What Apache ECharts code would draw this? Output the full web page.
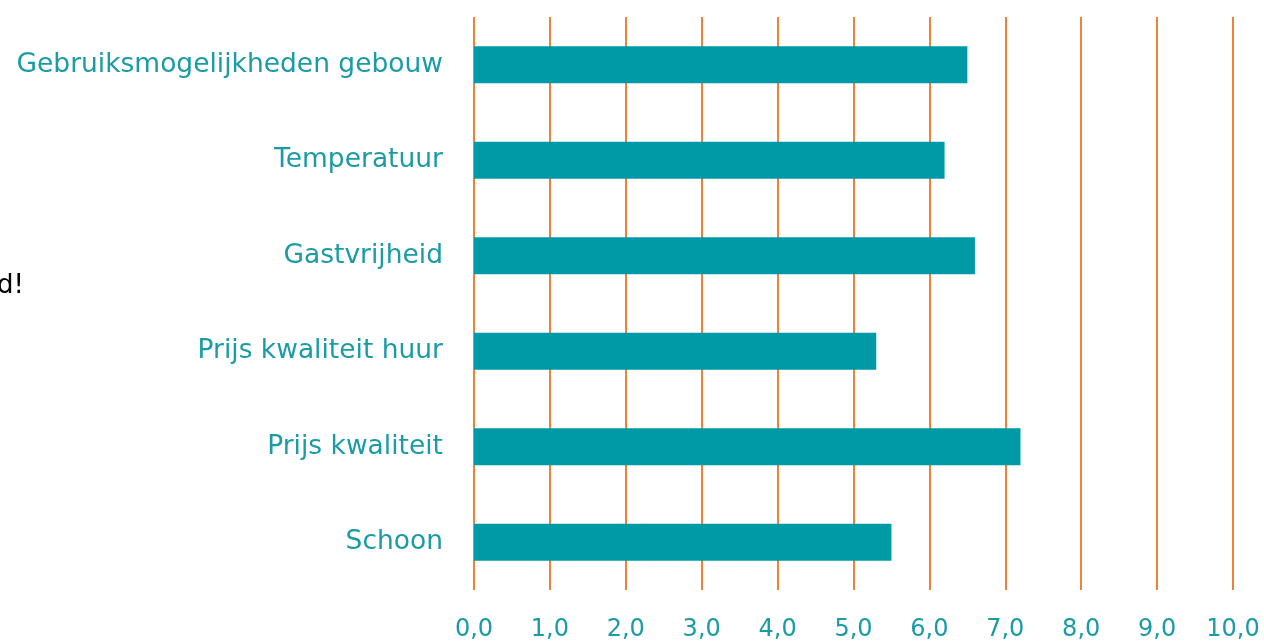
<!DOCTYPE html>
<html><head><meta charset="utf-8">
<script src="https://cdn.jsdelivr.net/npm/echarts@6/dist/echarts.min.js"></script>
<style>html,body{margin:0;padding:0;background:#fff}#c{width:1264px;height:642px}</style>
</head><body><div id="c"></div>
<script>
var categories = ["Gebruiksmogelijkheden gebouw", "Temperatuur", "Gastvrijheid", "Prijs kwaliteit huur", "Prijs kwaliteit", "Schoon"];
var values = [6.5, 6.2, 6.6, 5.3, 7.2, 5.5];
var xTicks = [0, 1, 2, 3, 4, 5, 6, 7, 8, 9, 10];
var chart = echarts.init(document.getElementById('c'));
chart.setOption({
  animation: false,
  grid: {left: 474, right: 31, top: 17, bottom: 52, containLabel: false},
  xAxis: {
    type: 'value', min: xTicks[0], max: xTicks[xTicks.length - 1], interval: 1,
    axisLine: {show: false}, axisTick: {show: false},
    splitLine: {show: true, lineStyle: {color: '#EE8236', width: 2}},
    axisLabel: {color: '#1A9BA5', fontSize: 24, fontFamily: 'DejaVu Sans', margin: 28,
      formatter: function (v) { return v.toFixed(1).replace('.', ','); }}
  },
  yAxis: {
    type: 'category', data: categories, inverse: true,
    axisLine: {show: false}, axisTick: {show: false}, splitLine: {show: false},
    axisLabel: {color: '#1A9BA5', fontSize: 26.5, fontFamily: 'DejaVu Sans', margin: 31}
  },
  series: [{
    type: 'bar', data: values, barWidth: 37,
    itemStyle: {color: '#009AA6'}
  }],
  graphic: [{type: 'text', left: -3, top: 273, style: {text: 'd!', fontSize: 26, fill: '#000', fontFamily: 'DejaVu Sans'}}]
});
</script></body></html>
